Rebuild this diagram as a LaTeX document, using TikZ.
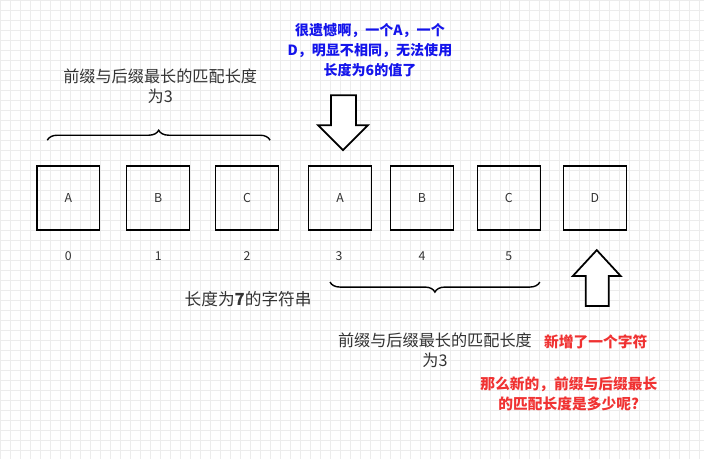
\documentclass[tikz,border=0pt]{standalone}
\usepackage{fontspec}
\setmainfont{Noto Sans CJK SC}
\usetikzlibrary{decorations.pathreplacing}
\definecolor{gridgray}{RGB}{236,236,236}
\definecolor{txtblue}{RGB}{20,20,235}
\definecolor{txtred}{RGB}{240,50,50}
\tikzset{
	cell/.style={draw, line width=0.8pt, minimum width=63*0.02cm, minimum height=64*0.02cm, font=\fontsize{7}{8}\selectfont, text=black!80},
	idx/.style={font=\fontsize{7}{8}\selectfont, text=black!80},
	note/.style={align=center, font=\fontsize{9.2}{11.5}\selectfont, text=black!80},
	brc/.style={decorate, decoration={brace, amplitude=10*0.02cm}, line width=0.8pt}
}
\begin{document}
\begin{tikzpicture}[x=0.02cm, y=-0.02cm]
	% fond
	\fill[white] (0,0) rectangle (704,459);
	\draw[gridgray, step=10*0.02cm] (0,0) grid (704,459);
	\useasboundingbox (0,0) rectangle (704,459);
	% les cases
	\node[cell] (a0) at (68,198) {A};
	\node[cell] (b1) at (158,198) {B};
	\node[cell] (c2) at (247,198) {C};
	\node[cell] (a3) at (340,198) {A};
	\node[cell] (b4) at (422,198) {B};
	\node[cell] (c5) at (509,198) {C};
	\node[cell] (d6) at (595,198) {D};
	\foreach \n/\x in {0/68,1/158,2/247,3/339,4/422,5/509}
		\node[idx] (i\n) at (\x,256) {\n};
	% accolades
	\draw[brc] (47,140) -- (270,140);
	\draw[brc] (540,282) -- (330,282);
	\node[note] (top) at (160,86) {前缀与后缀最长的匹配长度\\为3};
	\node[note] (bot) at (435,350) {前缀与后缀最长的匹配长度\\为3};
	\node[note, font=\fontsize{9.5}{12}\selectfont] (len) at (248,299) {长度为\textbf{7}的字符串};
	% textes
	\node[note, text=txtblue, font=\fontsize{8}{11.5}\selectfont\bfseries] (bleu) at (370,50) {很遗憾啊，一个A，一个\\D，明显不相同，无法使用\\长度为6的值了};
	\node[note, text=txtred, font=\fontsize{8.4}{11.5}\selectfont\bfseries] (nouv) at (596,342) {新增了一个字符};
	\node[note, text=txtred, font=\fontsize{8.4}{11.5}\selectfont\bfseries] (quest) at (569,394) {那么新的，前缀与后缀最长\\的匹配长度是多少呢?};
	% fleches
	\draw[line width=1pt, fill=white] (331,95) -- (356,95) -- (356,125) -- (368,125) -- (343,150) -- (318,125) -- (331,125) -- cycle;
	\draw[line width=1pt, fill=white] (586,306) -- (609,306) -- (609,276) -- (621,276) -- (597,250) -- (573,276) -- (586,276) -- cycle;
\end{tikzpicture}
\end{document}
